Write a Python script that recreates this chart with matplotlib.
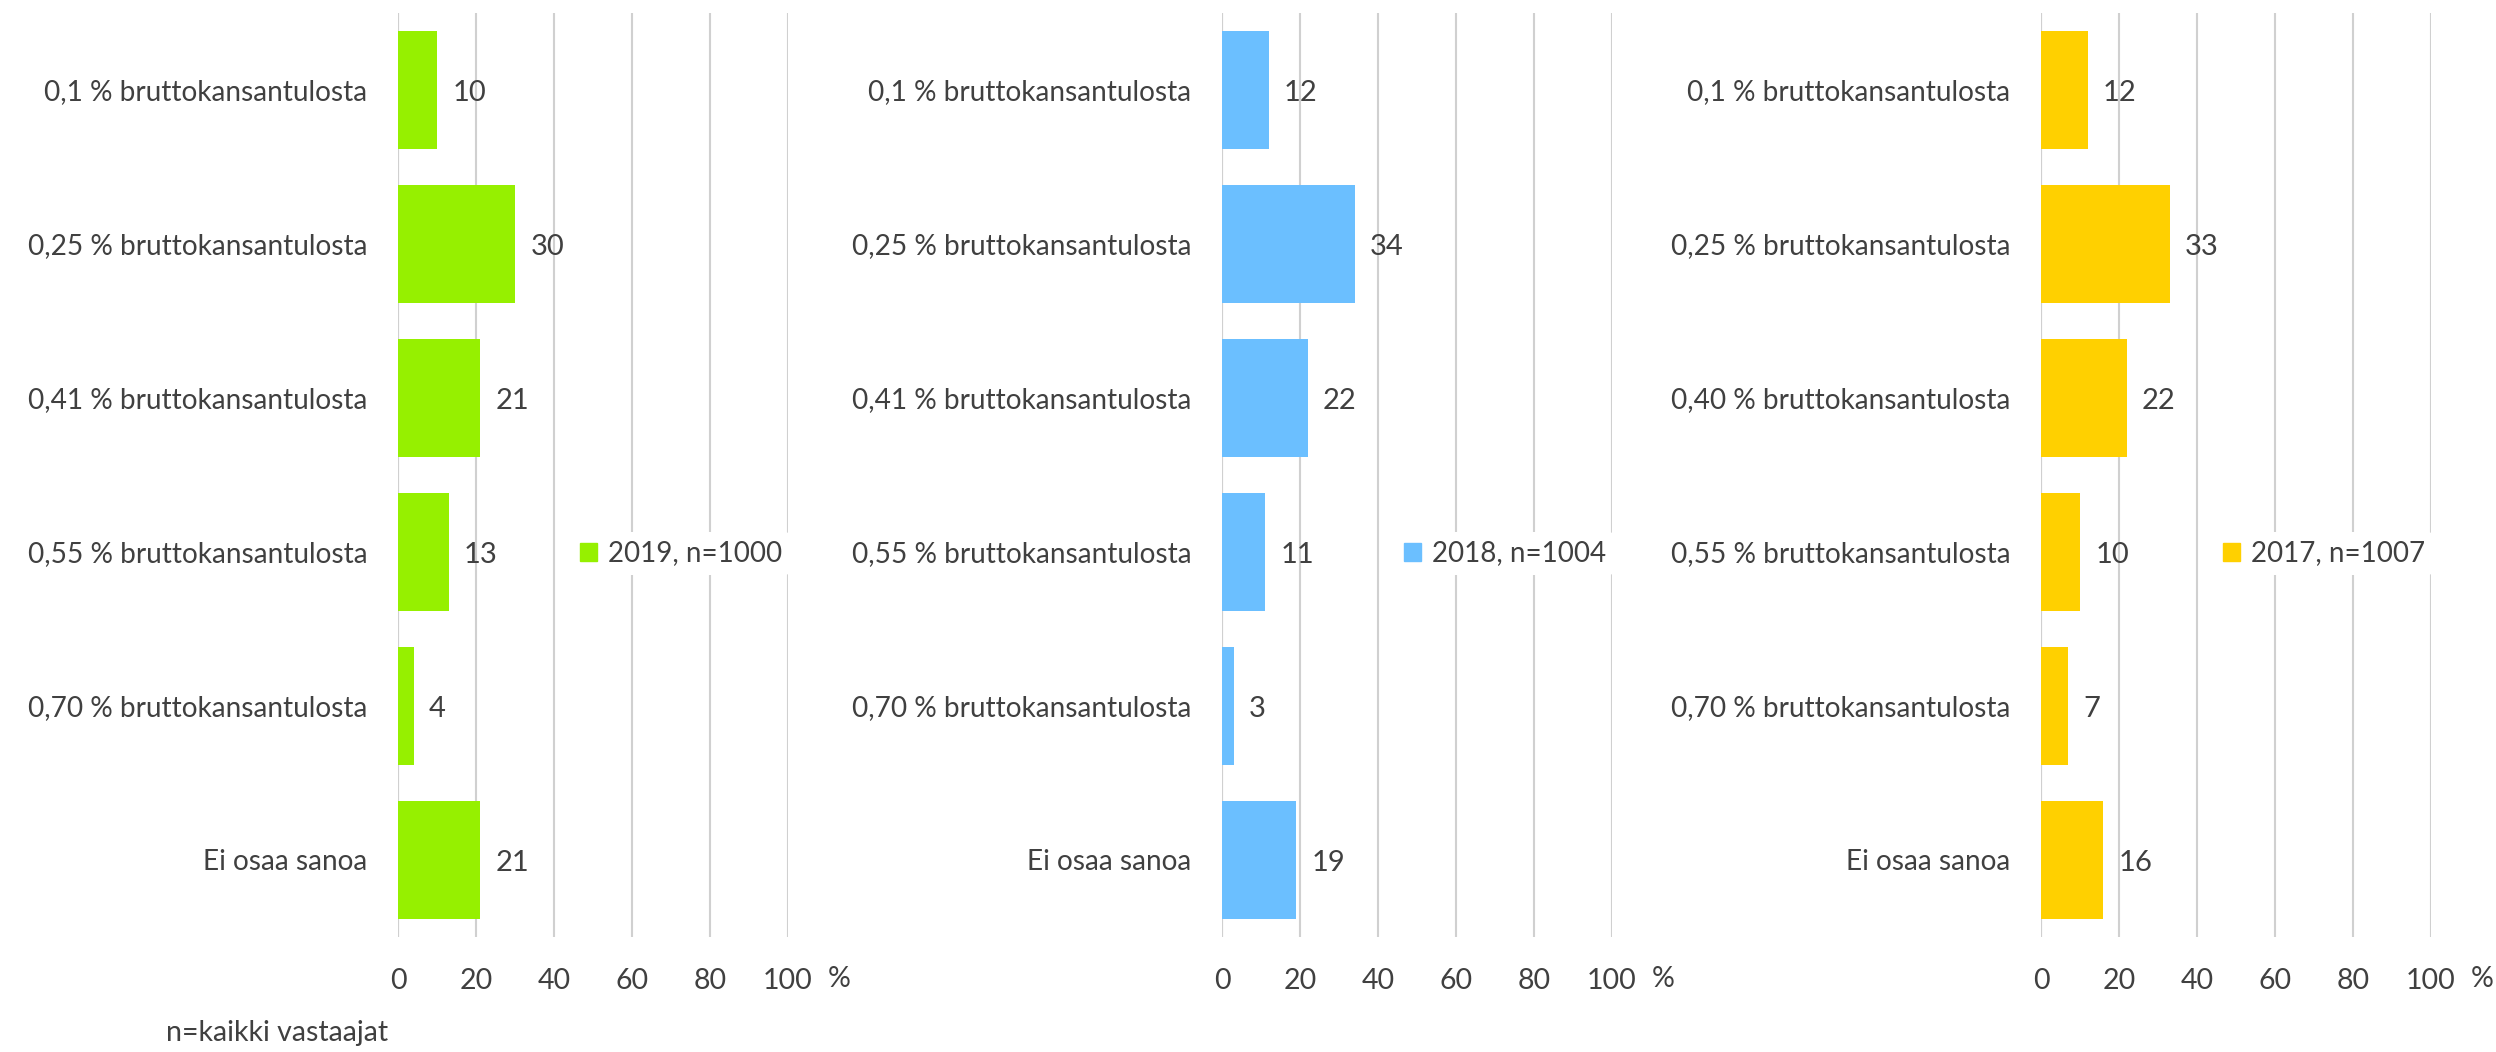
import matplotlib.pyplot as plt
from matplotlib.patches import Patch

plt.rcParams['font.family'] = ['Lato', 'DejaVu Sans']

cats_2019 = ['0,1 % bruttokansantulosta', '0,25 % bruttokansantulosta', '0,41 % bruttokansantulosta',
             '0,55 % bruttokansantulosta', '0,70 % bruttokansantulosta', 'Ei osaa sanoa']
cats_2018 = ['0,1 % bruttokansantulosta', '0,25 % bruttokansantulosta', '0,41 % bruttokansantulosta',
             '0,55 % bruttokansantulosta', '0,70 % bruttokansantulosta', 'Ei osaa sanoa']
cats_2017 = ['0,1 % bruttokansantulosta', '0,25 % bruttokansantulosta', '0,40 % bruttokansantulosta',
             '0,55 % bruttokansantulosta', '0,70 % bruttokansantulosta', 'Ei osaa sanoa']
vals_2019 = [10, 30, 21, 13, 4, 21]
vals_2018 = [12, 34, 22, 11, 3, 19]
vals_2017 = [12, 33, 22, 10, 7, 16]
labels = ['2019, n=1000', '2018, n=1004', '2017, n=1007']
colors = ['#96F000', '#6BBFFF', '#FFD000']
xticks = [0, 20, 40, 60, 80, 100]

txt = '#404040'
fig = plt.figure(figsize=(24.96, 10.52), dpi=100, facecolor='white')

panels = [(cats_2019, vals_2019), (cats_2018, vals_2018), (cats_2017, vals_2017)]
lefts = [398, 1222, 2041]
for (cats, vals), left, lab, col in zip(panels, lefts, labels, colors):
    ax = fig.add_axes([left / 2496, 115 / 1052, 390 / 2496, 924 / 1052])
    y = list(range(len(cats)))
    ax.barh(y, vals, height=0.77, color=col, zorder=3)
    for yi, v in zip(y, vals):
        ax.annotate(str(v), (v, yi), xytext=(11, -2), textcoords='offset points',
                    ha='left', va='center', fontsize=21, color=txt)
    ax.set_xlim(0, 100)
    ax.set_ylim(5.5, -0.5)
    ax.set_yticks(y)
    ax.set_yticklabels(cats, fontsize=20.2, color=txt)
    ax.set_xticks(xticks)
    ax.set_xticklabels([str(t) for t in xticks], fontsize=20.5, color=txt)
    ax.tick_params(axis='y', length=0, pad=22)
    ax.tick_params(axis='x', length=0, pad=22)
    ax.grid(axis='x', color='#D0D0D0', linewidth=1.5, zorder=0)
    for s in ax.spines.values():
        s.set_visible(False)
    ax.axvline(0, color='#D0D0D0', linewidth=1.5, zorder=1)
    ax.text(1.13, -0.045, '%', transform=ax.transAxes, fontsize=20.5, color=txt,
            ha='center', va='center')
    leg = ax.legend(handles=[Patch(color=col, label=lab)], loc='center left',
                    bbox_to_anchor=(0.41, 0.415), frameon=True, fontsize=20,
                    handlelength=0.6, handleheight=0.6, handletextpad=0.4,
                    borderpad=0.3, labelcolor=txt)
    leg.get_frame().set_edgecolor('none')
    leg.get_frame().set_facecolor('white')
    leg.get_frame().set_alpha(1)
    leg.set_zorder(5)

fig.text(166 / 2496, 1 - 1033 / 1052, 'n=kaikki vastaajat', fontsize=20.5, color=txt,
         ha='left', va='center')

fig.savefig('out.png', dpi=100, facecolor='white')
